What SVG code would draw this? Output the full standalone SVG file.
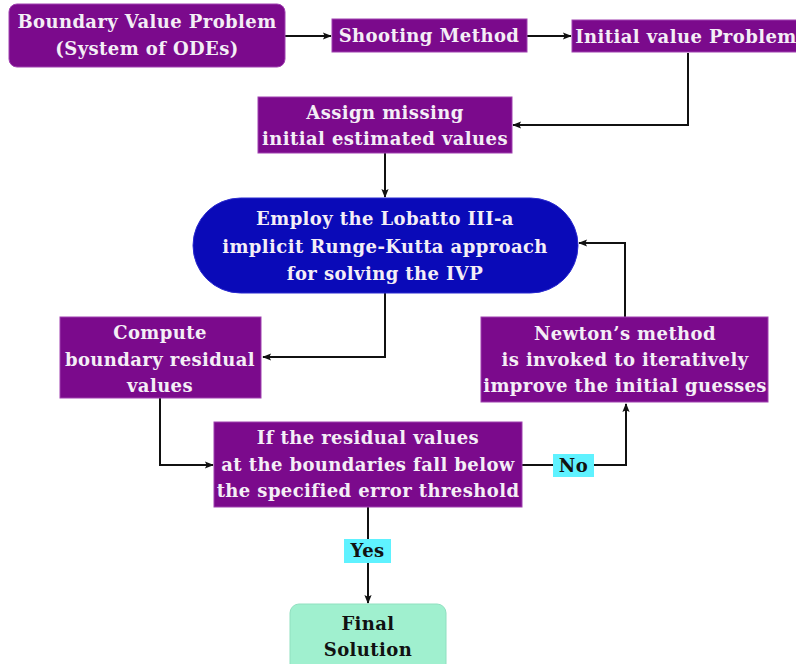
<svg xmlns="http://www.w3.org/2000/svg" width="796" height="664" viewBox="0 0 796 664">
<defs>
<style>
.box{fill:#7b0a8c;stroke:#a040b0;stroke-width:1}
.t{font-family:"DejaVu Serif","Liberation Serif",serif;font-weight:bold;font-size:18px;fill:#f4eef6;text-anchor:middle;letter-spacing:0.4px}
.d{fill:#111}
.c{fill:none;stroke:#111;stroke-width:2}
.lab{fill:#5ff2ff}
</style>
<marker id="ah" viewBox="0 0 10 10" refX="9" refY="5" markerWidth="10" markerHeight="9" orient="auto" markerUnits="userSpaceOnUse">
<path d="M0,1 L10,5 L0,9 L2,5 Z" fill="#111"/>
</marker>
</defs>
<rect width="796" height="664" fill="#fff"/>
<g id="connectors">
<path class="c" d="M285,36 H331" marker-end="url(#ah)"/>
<path class="c" d="M527,36 H571" marker-end="url(#ah)"/>
<path class="c" d="M688,53 V125 H513" marker-end="url(#ah)"/>
<path class="c" d="M385,153 V197" marker-end="url(#ah)"/>
<path class="c" d="M385,293 V357 H263" marker-end="url(#ah)"/>
<path class="c" d="M160,398 V465 H213" marker-end="url(#ah)"/>
<path class="c" d="M522,465 H626 V404" marker-end="url(#ah)"/>
<path class="c" d="M625,317 V243 H579" marker-end="url(#ah)"/>
<path class="c" d="M368,507 V603" marker-end="url(#ah)"/>
</g>
<g id="bvp">
<rect class="box" x="9" y="4" width="276" height="63" rx="8"/>
<text class="t" x="147" y="28">Boundary Value Problem</text>
<text class="t" x="147" y="55">(System of ODEs)</text>
</g>
<g id="shooting">
<rect class="box" x="332" y="19" width="195" height="33"/>
<text class="t" x="429" y="42">Shooting Method</text>
</g>
<g id="ivp">
<rect class="box" x="572" y="20" width="230" height="32"/>
<text class="t" x="686" y="43">Initial value Problem</text>
</g>
<g id="assign">
<rect class="box" x="258" y="97" width="254" height="56"/>
<text class="t" x="385" y="119">Assign missing</text>
<text class="t" x="385" y="145">initial estimated values</text>
</g>
<g id="lobatto">
<rect x="193" y="198" width="385" height="95" rx="47.5" fill="#0a0ab8" stroke="#2a2ad0"/>
<text class="t" x="385" y="225">Employ the Lobatto III-a</text>
<text class="t" x="385" y="253">implicit Runge-Kutta approach</text>
<text class="t" x="385" y="280">for solving the IVP</text>
</g>
<g id="compute">
<rect class="box" x="60" y="317" width="201" height="81"/>
<text class="t" x="160" y="339">Compute</text>
<text class="t" x="160" y="366">boundary residual</text>
<text class="t" x="160" y="392">values</text>
</g>
<g id="newton">
<rect class="box" x="481" y="317" width="287" height="85"/>
<text class="t" x="625" y="340">Newton’s method</text>
<text class="t" x="625" y="366">is invoked to iteratively</text>
<text class="t" x="625" y="392">improve the initial guesses</text>
</g>
<g id="decision">
<rect class="box" x="214" y="422" width="308" height="85"/>
<text class="t" x="368" y="444">If the residual values</text>
<text class="t" x="368" y="471">at the boundaries fall below</text>
<text class="t" x="368" y="497">the specified error threshold</text>
</g>
<g id="no-label">
<rect class="lab" x="553" y="454" width="41" height="23"/>
<text class="t d" x="573.5" y="472">No</text>
</g>
<g id="yes-label">
<rect class="lab" x="344" y="539" width="47" height="24"/>
<text class="t d" x="367.5" y="557">Yes</text>
</g>
<g id="final">
<rect x="290" y="604" width="156" height="70" rx="9" fill="#a0f0cf" stroke="#90e0c0"/>
<text class="t d" x="368" y="630">Final</text>
<text class="t d" x="368" y="656">Solution</text>
</g>
</svg>
